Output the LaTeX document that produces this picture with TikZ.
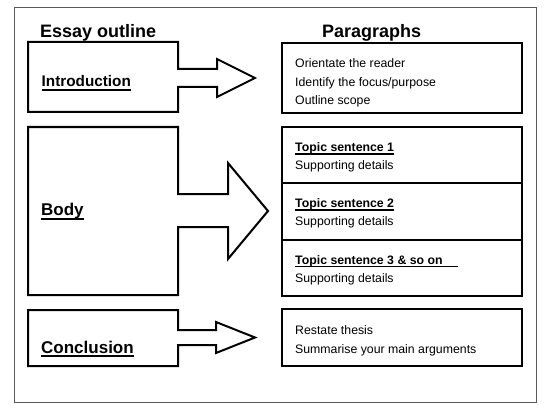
\documentclass[tikz,border=0pt]{standalone}
\usepackage{fontspec}
\setmainfont{Liberation Sans}
\begin{document}
\begin{tikzpicture}[x=1pt,y=-1pt,
  frame/.style={draw=black!65,line width=1pt},
  shapeline/.style={draw=black,line width=2pt,line join=miter},
  parabox/.style={draw=black,line width=2.4pt},
  head/.style={anchor=base west,inner sep=0pt,font=\fontsize{18}{20}\selectfont\bfseries},
  lbl/.style={anchor=base west,inner sep=0pt,font=\fontsize{17}{19}\selectfont\bfseries},
  txt/.style={anchor=base west,inner sep=0pt,font=\fontsize{12.3}{14}\selectfont},
  tsl/.style={anchor=base west,inner sep=0pt,font=\fontsize{12.3}{14}\selectfont\bfseries},
  ul/.style={draw=black,line width=1.8pt},
  uls/.style={draw=black,line width=1.1pt}]
\useasboundingbox (0,0) rectangle (559,417);
\fill[white] (0,0) rectangle (559,417);
% outer frame
\draw[frame] (14,8) rectangle (536,402);
% headings
\node[head] (hleft) at (40,37.3) {Essay outline};
\node[head] (hright) at (322,37.3) {Paragraphs};
% left block arrows
\draw[shapeline] (28,42) -- (178,42) -- (178,69) -- (217,69) -- (217,59) -- (255,78)
  -- (217,97) -- (217,87) -- (178,87) -- (178,112) -- (28,112) -- cycle;
\draw[shapeline] (28,127) -- (178,127) -- (178,194) -- (228,194) -- (228,163) -- (268,211)
  -- (228,259) -- (228,227) -- (178,227) -- (178,295) -- (28,295) -- cycle;
\draw[shapeline] (28,310) -- (178,310) -- (178,330) -- (216,330) -- (216,322) -- (255,337.5)
  -- (216,353) -- (216,345) -- (178,345) -- (178,366) -- (28,366) -- cycle;
% left labels
\node[lbl,font=\fontsize{15.3}{17}\selectfont\bfseries] (intro) at (41.5,86.7) {Introduction};
\draw[ul] ([yshift=-3pt]intro.base west) -- ([yshift=-3pt]intro.base east);
\node[lbl] (body) at (41,215.7) {Body};
\draw[ul] ([yshift=-3pt]body.base west) -- ([yshift=-3pt]body.base east);
\node[lbl] (concl) at (41,353.3) {Conclusion};
\draw[ul] ([yshift=-3pt]concl.base west) -- ([yshift=-3pt]concl.base east);
% right boxes
\draw[parabox] (282,43) rectangle (522,113);
\draw[parabox] (282,127) rectangle (522,296);
\draw[parabox] (282,183) -- (522,183);
\draw[parabox] (282,240) -- (522,240);
\draw[parabox] (282,309) rectangle (522,366);
% intro paragraph text
\node[txt] (p1) at (295,67.3) {Orientate the reader};
\node[txt] (p2) at (295,86.3) {Identify the focus/purpose};
\node[txt] (p3) at (295,105) {Outline scope};
% body paragraph text
\node[tsl] (ts1) at (295,151.7) {Topic sentence 1};
\draw[uls] ([yshift=-2.3pt]ts1.base west) -- ([yshift=-2.3pt]ts1.base east);
\node[txt] (sd1) at (295,169.5) {Supporting details};
\node[tsl] (ts2) at (295,207.7) {Topic sentence 2};
\draw[uls] ([yshift=-2.3pt]ts2.base west) -- ([yshift=-2.3pt]ts2.base east);
\node[txt] (sd2) at (295,225.5) {Supporting details};
\node[tsl] (ts3) at (295,264.5) {Topic sentence 3 \& so on};
\coordinate (ts3end) at (458,264.5);
\draw[uls] ([yshift=-2.3pt]ts3.base west) -- ([yshift=-2.3pt]ts3end);
\node[txt] (sd3) at (295,282.5) {Supporting details};
% conclusion paragraph text
\node[txt] (c1) at (295,334) {Restate thesis};
\node[txt] (c2) at (295,353.3) {Summarise your main arguments};
\end{tikzpicture}
\end{document}
